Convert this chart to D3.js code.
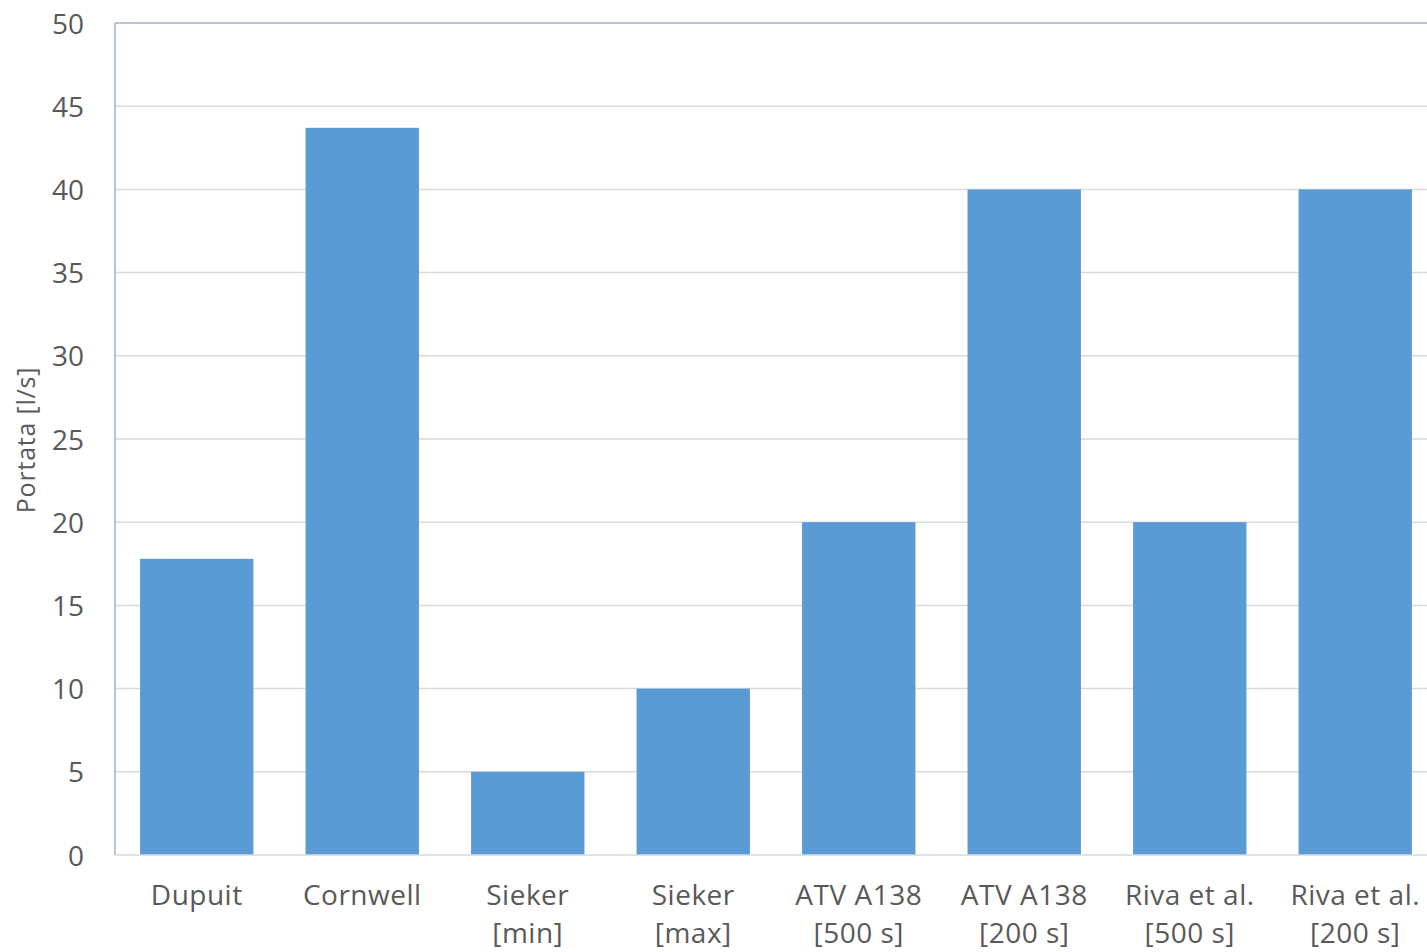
<!DOCTYPE html>
<html>
<head>
<meta charset="utf-8">
<script src="https://cdn.jsdelivr.net/npm/d3@7"></script>
<style>
  html, body { margin: 0; padding: 0; background: #ffffff; overflow: hidden; }
  svg { display: block; font-family: "Open Sans", "Noto Sans", sans-serif; }
</style>
</head>
<body>
<svg id="chart" width="1427" height="952"></svg>
<script>
// Category labels (two lines each) and flow values in l/s
const categories = [
  ["Dupuit"],
  ["Cornwell"],
  ["Sieker", "[min]"],
  ["Sieker", "[max]"],
  ["ATV A138", "[500 s]"],
  ["ATV A138", "[200 s]"],
  ["Riva et al.", "[500 s]"],
  ["Riva et al.", "[200 s]"]
];
const values = [17.8, 43.7, 5, 10, 20, 40, 20, 40];
const yTicks = [0, 5, 10, 15, 20, 25, 30, 35, 40, 45, 50];
const yTitle = "Portata [l/s]";

const svg = d3.select("#chart");
const plotLeft = 115, plotRight = 1438, plotTop = 23, plotBottom = 855;

const keys = categories.map(c => c.join(" "));
const x = d3.scaleBand().domain(keys).range([plotLeft - 1, plotRight])
  .paddingInner(0.315).paddingOuter(0.1575);
const y = d3.scaleLinear().domain([0, 50]).range([plotBottom, plotTop]);

// horizontal gridlines
svg.append("g").selectAll("line").data(yTicks.filter(t => t > 0 && t < 50)).join("line")
  .attr("x1", plotLeft).attr("x2", plotRight)
  .attr("y1", d => y(d)).attr("y2", d => y(d))
  .attr("stroke", "#d9d9d9").attr("stroke-width", 1.5);

// frame: top border and left axis line
svg.append("line").attr("x1", plotLeft).attr("x2", plotRight).attr("y1", y(50)).attr("y2", y(50))
  .attr("stroke", "#9fb3c8").attr("stroke-width", 1.5);
svg.append("line").attr("x1", plotLeft).attr("x2", plotLeft).attr("y1", y(50)).attr("y2", y(0))
  .attr("stroke", "#9fb3c8").attr("stroke-width", 1.5);

// bars
svg.append("g").selectAll("rect").data(values).join("rect")
  .attr("x", (d, i) => x(keys[i]))
  .attr("width", x.bandwidth())
  .attr("y", d => y(d))
  .attr("height", d => y(0) - y(d))
  .attr("fill", "#5b9bd5");

// baseline
svg.append("line").attr("x1", plotLeft).attr("x2", plotRight).attr("y1", y(0)).attr("y2", y(0))
  .attr("stroke", "#d9d9d9").attr("stroke-width", 1.5);

// y axis labels
const yAxis = d3.axisLeft(y).tickValues(yTicks).tickSize(0).tickPadding(31);
const yg = svg.append("g").attr("transform", `translate(${plotLeft},0)`).call(yAxis);
yg.select(".domain").remove();
yg.attr("font-family", null).attr("font-size", null);
yg.selectAll("text").attr("fill", "#595959").style("font-size", "28px")
  .attr("dy", "0.36em");

// category labels
const xg = svg.append("g");
categories.forEach((lines, i) => {
  const cx = x(keys[i]) + x.bandwidth() / 2;
  const t = xg.append("text").attr("x", cx).attr("y", 905)
    .attr("text-anchor", "middle").attr("fill", "#595959")
    .style("font-size", "28px").style("letter-spacing", "0.5px");
  lines.forEach((ln, j) => {
    t.append("tspan").attr("x", cx).attr("dy", j === 0 ? 0 : 38).text(ln);
  });
});

// y axis title
svg.append("text")
  .attr("transform", `translate(35,${(y(20) + y(30)) / 2 + 1}) rotate(-90)`)
  .attr("text-anchor", "middle")
  .attr("fill", "#595959").style("font-size", "25px").style("letter-spacing", "0.8px")
  .text(yTitle);
</script>
</body>
</html>
